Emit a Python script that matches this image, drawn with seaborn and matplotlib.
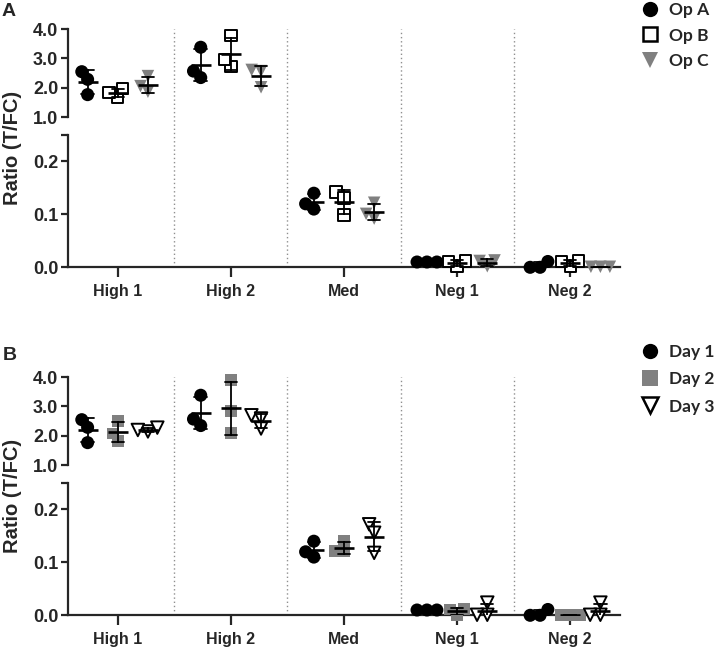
import numpy as np
import pandas as pd
import matplotlib
matplotlib.use("Agg")
import matplotlib.pyplot as plt
import matplotlib.transforms as mtrans
from matplotlib.lines import Line2D
from matplotlib.font_manager import FontProperties
import seaborn as sns

# ---------------- data ----------------
categories = ["High 1", "High 2", "Med", "Neg 1", "Neg 2"]

# Panel A: operators (3 replicates per category, in category order)
ops = ["Op A", "Op B", "Op C"]
op_a = [2.55, 2.29, 1.77, 3.38, 2.35, 2.57, 0.140, 0.110, 0.120,
        0.010, 0.010, 0.010, 0.011, 0.000, 0.000]
op_b = [1.68, 1.97, 1.84, 3.77, 2.72, 2.97, 0.142, 0.131, 0.099,
        0.001, 0.011, 0.012, 0.001, 0.011, 0.012]
op_c = [2.40, 1.87, 2.06, 2.61, 2.57, 2.02, 0.122, 0.092, 0.101,
        0.002, 0.013, 0.012, 0.001, 0.001, 0.001]

# Panel B: days
days = ["Day 1", "Day 2", "Day 3"]
day_1 = [2.55, 2.29, 1.77, 3.38, 2.35, 2.57, 0.140, 0.110, 0.120,
         0.010, 0.010, 0.010, 0.011, 0.000, 0.000]
day_2 = [2.51, 2.08, 1.82, 3.89, 2.84, 2.10, 0.140, 0.121, 0.121,
         0.000, 0.011, 0.012, 0.001, 0.001, 0.001]
day_3 = [2.15, 2.28, 2.20, 2.70, 2.59, 2.25, 0.172, 0.156, 0.118,
         0.024, 0.001, 0.001, 0.024, 0.001, 0.001]

upper_ticks = [1.0, 2.0, 3.0, 4.0]
lower_ticks = [0.0, 0.1, 0.2, 0.25]
lower_ticklabels = ["0.0", "0.1", "0.2", ""]

GRAY = "#808080"
ARIAL = ["Liberation Sans", "DejaVu Sans"]

# ---------------- style ----------------
sns.set_theme(style="ticks")
plt.rcParams["font.family"] = ARIAL
plt.rcParams["font.weight"] = "bold"

W, H = 716, 648
fig = plt.figure(figsize=(W / 100, H / 100), dpi=100)

swarm_records = []  # (collection, visual marker size)


def fx(px):
    return px / W


def fy(py):
    return 1 - py / H


def make_df(names, values):
    frames = []
    for n, v in zip(names, values):
        frames.append(pd.DataFrame({
            "category": np.repeat(categories, 3),
            "series": n,
            "value": v,
        }))
    return pd.concat(frames, ignore_index=True)


def draw_panel(top_px, names, values, styles, legend_top_px, legend_spacing):
    left_px, right_px = 68, 620
    up_top, up_bot = top_px, top_px + 88.3
    lo_top, lo_bot = top_px + 106, top_px + 238.3
    ax_up = fig.add_axes([fx(left_px), fy(up_bot), fx(right_px - left_px), (up_bot - up_top) / H])
    ax_lo = fig.add_axes([fx(left_px), fy(lo_bot), fx(right_px - left_px), (lo_bot - lo_top) / H])

    df = make_df(names, values)
    palette_pts = {n: st["face"] for n, st in zip(names, styles)}
    for ax, mask in [(ax_up, df["value"] >= 1.0), (ax_lo, df["value"] < 0.25)]:
        sub_all = df[mask]
        for n, st in zip(names, styles):
            sub = sub_all[sub_all["series"] == n]
            before = len(ax.collections)
            sns.swarmplot(data=sub, x="category", y="value", hue="series",
                          order=categories, hue_order=names, palette=palette_pts,
                          dodge=True, marker=st["marker"], size=st["swarm_size"],
                          edgecolor=st["edge"], linewidth=st["lw"],
                          legend=False, ax=ax, zorder=3)
            for coll in ax.collections[before:]:
                if len(coll.get_offsets()) > 0:
                    coll.set_clip_on(False)
                    swarm_records.append((coll, st["size"]))
        sns.pointplot(data=sub_all, x="category", y="value", hue="series",
                      order=categories, hue_order=names,
                      palette={n: "black" for n in names},
                      dodge=0.8 - 0.8 / 3, markers="_", linestyles="none",
                      errorbar="sd", capsize=0.11,
                      markersize=15, markeredgewidth=1.9,
                      err_kws={"linewidth": 1.3},
                      legend=False, ax=ax, zorder=5)
        ax.set_xlim(-0.44, len(categories) - 1 + 0.44)
        ax.set_xlabel("")
        ax.set_ylabel("")
        ax.set_facecolor("none")
        for s in ["top", "right"]:
            ax.spines[s].set_visible(False)
        ax.spines["left"].set_linewidth(1.6)
        ax.spines["bottom"].set_linewidth(1.6)
        ax.tick_params(axis="y", width=1.6, length=5, labelsize=13, pad=2)
        ax.tick_params(axis="x", width=1.6, length=7, labelsize=11.5, pad=5)

    ax_up.set_ylim(1.0, 4.0)
    ax_up.set_yticks(upper_ticks)
    ax_up.set_yticklabels([f"{t:.1f}" for t in upper_ticks])
    ax_up.spines["bottom"].set_visible(False)
    ax_up.tick_params(axis="x", bottom=False, labelbottom=False)

    ax_lo.set_ylim(0.0, 0.25)
    ax_lo.set_yticks(lower_ticks)
    ax_lo.set_yticklabels(lower_ticklabels)
    ax_lo.set_xticks(range(len(categories)))
    ax_lo.set_xticklabels(categories)
    for lab in ax_lo.get_xticklabels() + ax_lo.get_yticklabels() + ax_up.get_yticklabels():
        lab.set_fontweight("bold")
        lab.set_family(ARIAL)

    # dotted separators spanning both segments
    trans = mtrans.blended_transform_factory(ax_lo.transData, fig.transFigure)
    for i in range(len(categories) - 1):
        ax_lo.plot([i + 0.5, i + 0.5], [fy(lo_bot), fy(up_top)], transform=trans,
                   color="#8f8f8f", linewidth=1.0, linestyle=(0, (1, 2)),
                   clip_on=False, zorder=1)

    fig.text(fx(12.5), fy((up_top + lo_bot) / 2), "Ratio (T/FC)", rotation=90,
             ha="center", va="center", fontsize=14.5, fontweight="bold", family=ARIAL)

    handles = [Line2D([], [], linestyle="none", marker=st["marker"],
                      markerfacecolor=st["face"],
                      markeredgecolor=(st["edge"] if st["lw"] > 0 else st["face"]),
                      markeredgewidth=(1.8 if st["lw"] > 0 else 0),
                      markersize=st["leg_size"]) for st in styles]
    fig.legend(handles, names, loc="upper left",
               bbox_to_anchor=(fx(641), fy(legend_top_px)), frameon=False,
               prop=FontProperties(family=["Lato", "DejaVu Sans"], weight="bold", size=12.5),
               handlelength=1.0, handletextpad=0.6, labelspacing=legend_spacing,
               borderaxespad=0, borderpad=0)
    return ax_up, ax_lo


styles_a = [
    dict(marker="o", face="black", edge="black", lw=0, size=9.4, swarm_size=6.8, leg_size=11),
    dict(marker="s", face="white", edge="black", lw=1.4, size=8.2, swarm_size=5.6, leg_size=10),
    dict(marker="v", face=GRAY, edge=GRAY, lw=0, size=9.0, swarm_size=6.5, leg_size=12),
]
styles_b = [
    dict(marker="o", face="black", edge="black", lw=0, size=9.4, swarm_size=6.8, leg_size=11),
    dict(marker="s", face=GRAY, edge=GRAY, lw=0, size=8.6, swarm_size=6.4, leg_size=11),
    dict(marker="v", face="white", edge="black", lw=1.4, size=9.0, swarm_size=5.6, leg_size=11),
]

draw_panel(29, ops, [op_a, op_b, op_c], styles_a, 2, 0.55)
draw_panel(377, days, [day_1, day_2, day_3], styles_b, 344, 0.65)

fig.text(fx(9), fy(11.5), "A", ha="center", va="center", fontsize=14, fontweight="bold", family=ARIAL)
fig.text(fx(9.5), fy(355), "B", ha="center", va="center", fontsize=14, fontweight="bold", family=ARIAL)

# let seaborn lay out the swarms (GraphPad-like tight spread), then show markers at full size
fig.canvas.draw()
for coll, vis in swarm_records:
    if "draw" in coll.__dict__:
        del coll.draw
    coll.set_sizes([vis ** 2])

fig.savefig("out.png", dpi=100)
